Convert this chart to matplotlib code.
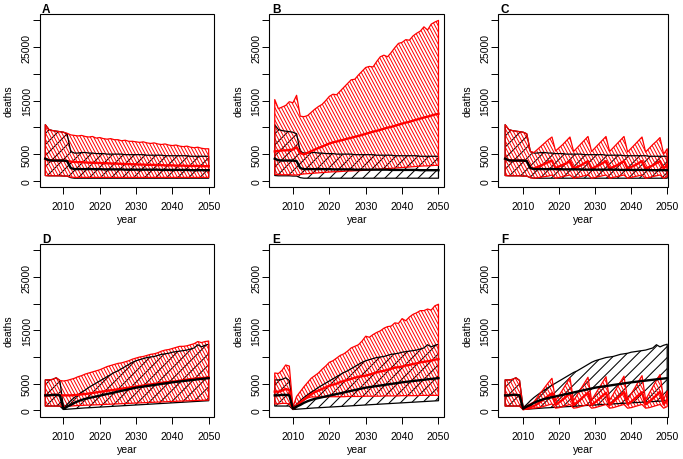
import numpy as np
import matplotlib
matplotlib.use("Agg")
import matplotlib.pyplot as plt
from matplotlib.collections import LineCollection
from matplotlib.patches import Rectangle

plt.rcParams['font.family'] = ['Liberation Sans', 'DejaVu Sans']

years = list(range(2005, 2051))

# ---- baseline (black) bands, top row A-C ----
blkT_hi = [10500, 9600, 9400, 9300, 9200, 9100, 8800, 5500, 5200, 5200,
           5300, 5300, 5200, 5200, 5100, 5100, 5100, 5000, 5000, 5000,
           5000, 5000, 4900, 4900, 4900, 4900, 4900, 4900, 4800, 4800,
           4800, 4800, 4800, 4700, 4700, 4700, 4700, 4700, 4700, 4700,
           4600, 4600, 4600, 4600, 4600, 4600]
blkT_mid = [4150, 3850, 3800, 3800, 3800, 3800, 3700, 2400, 2200, 2200,
            2200, 2200, 2200, 2200, 2200, 2200, 2150, 2150, 2150, 2150,
            2150, 2150, 2100, 2100, 2100, 2100, 2100, 2100, 2100, 2100,
            2100, 2100, 2050, 2050, 2050, 2050, 2050, 2050, 2050, 2050,
            2000, 2000, 2000, 2000, 2000, 2000]
blkT_lo = [1000, 950, 950, 950, 950, 900, 900, 600, 500, 500,
           500, 500, 500, 500, 500, 500, 500, 500, 500, 500,
           500, 500, 500, 500, 500, 500, 500, 500, 500, 500,
           500, 500, 500, 500, 500, 500, 500, 500, 500, 500,
           500, 500, 500, 500, 500, 500]

# ---- baseline (black) bands, bottom row D-F ----
blkB_hi = [5700, 5700, 5800, 6100, 5600, 500, 1100, 1800, 2400, 2900,
           3400, 3800, 4300, 4700, 5100, 5500, 5900, 6300, 6700, 7100,
           7400, 7800, 8200, 8600, 9000, 9300, 9500, 9700, 9900, 10000,
           10100, 10300, 10500, 10600, 10700, 10900, 11000, 11100, 11200, 11300,
           11500, 11700, 12300, 11900, 12200, 12400]
blkB_mid = [2800, 2800, 2900, 2900, 2800, 300, 700, 1000, 1400, 1700,
            1950, 2150, 2300, 2450, 2600, 2750, 2900, 3050, 3200, 3350,
            3500, 3650, 3800, 3950, 4100, 4250, 4350, 4450, 4550, 4650,
            4750, 4850, 4950, 5050, 5150, 5250, 5330, 5410, 5490, 5570,
            5650, 5730, 5810, 5890, 5960, 6030]
blkB_lo = [800, 800, 800, 800, 800, 150, 200, 250, 300, 350,
           400, 450, 480, 520, 560, 600, 640, 680, 720, 760,
           800, 840, 880, 920, 960, 1000, 1040, 1080, 1120, 1160,
           1200, 1240, 1280, 1320, 1360, 1400, 1440, 1480, 1520, 1560,
           1600, 1640, 1680, 1720, 1760, 1800]

# ---- scenario (red) bands ----
redA_hi = [10500, 9600, 9400, 9300, 9200, 9100, 8900, 8600, 8500, 8400,
           8500, 8300, 8200, 8300, 8000, 8100, 7900, 7800, 7900, 7700,
           7700, 7500, 7600, 7400, 7400, 7300, 7200, 7300, 7100, 7000,
           7100, 6900, 6800, 6900, 6700, 6600, 6700, 6500, 6400, 6500,
           6300, 6200, 6300, 6100, 6000, 6000]
redA_mid = [4150, 3850, 3800, 3800, 3800, 3800, 3700, 3600, 3550, 3500,
            3500, 3450, 3400, 3400, 3350, 3350, 3300, 3300, 3250, 3250,
            3200, 3200, 3150, 3150, 3100, 3100, 3050, 3050, 3000, 3000,
            3000, 2950, 2950, 2900, 2900, 2900, 2850, 2850, 2850, 2800,
            2800, 2800, 2800, 2750, 2750, 2750]
redA_lo = [1000, 950, 950, 950, 950, 900, 900, 700, 650, 650,
           650, 650, 650, 650, 650, 650, 650, 650, 650, 650,
           650, 650, 650, 650, 650, 650, 650, 650, 650, 650,
           650, 650, 650, 650, 650, 650, 650, 650, 650, 650,
           650, 650, 650, 650, 650, 650]

redB_hi = [15200, 13500, 13800, 14100, 14800, 14600, 16000, 12100, 12000, 12200,
           12800, 13400, 13900, 14300, 15000, 15800, 16200, 16100, 16800, 17500,
           18200, 18900, 19000, 19800, 20500, 21200, 21400, 21300, 22300, 23200,
           23500, 23200, 24000, 24900, 25700, 25900, 26400, 26300, 27100, 27600,
           28000, 28800, 28200, 29300, 29700, 30000]
redB_mid = [5500, 5600, 5700, 5700, 5800, 5850, 6300, 5200, 4950, 5250,
            5550, 5850, 6150, 6400, 6700, 7000, 7200, 7350, 7550, 7700,
            7900, 8050, 8250, 8400, 8600, 8800, 9000, 9200, 9350, 9550,
            9750, 9950, 10100, 10300, 10500, 10700, 10900, 11050, 11250, 11450,
            11650, 11850, 12000, 12200, 12400, 12550]
redB_lo = [1200, 1150, 1150, 1150, 1150, 1100, 1100, 1200, 1300, 1350,
           1400, 1450, 1500, 1550, 1600, 1650, 1700, 1700, 1750, 1800,
           1850, 1850, 1900, 1900, 1950, 2000, 2050, 2100, 2150, 2200,
           2250, 2300, 2350, 2400, 2450, 2500, 2550, 2600, 2650, 2700,
           2750, 2800, 2800, 2850, 2900, 2900]

redC_hi = [10500, 9600, 9400, 9300, 9200, 9100, 8800, 5500, 5300, 5900,
           6500, 7100, 7700, 8200, 5600, 6200, 6800, 7500, 8200, 5500,
           6200, 6900, 7600, 8300, 5500, 6200, 6900, 7600, 8300, 5500,
           6200, 6900, 7600, 8300, 5400, 6100, 6800, 7500, 8200, 5400,
           6100, 6800, 7400, 8100, 5000, 6000]
redC_mid = [4150, 3850, 3800, 3800, 3800, 3800, 3700, 2400, 2300, 2600,
            2900, 3200, 3500, 3800, 2400, 2700, 3000, 3300, 3700, 2300,
            2600, 2900, 3300, 3700, 2300, 2600, 2900, 3300, 3700, 2300,
            2600, 2900, 3300, 3700, 2300, 2600, 2900, 3300, 3700, 2300,
            2600, 2900, 3300, 3700, 2300, 3000]
redC_lo = [1000, 950, 950, 950, 950, 900, 900, 600, 500, 600,
           700, 800, 900, 1100, 500, 650, 800, 950, 1100, 500,
           650, 800, 950, 1100, 500, 650, 800, 950, 1100, 500,
           650, 800, 950, 1100, 500, 650, 800, 950, 1100, 500,
           650, 800, 950, 1100, 500, 800]

redD_hi = [5700, 5700, 5800, 6100, 5600, 5500, 5600, 5800, 6000, 6300,
           6500, 6800, 7000, 7200, 7400, 7600, 7900, 8200, 8400, 8600,
           8800, 8900, 9100, 9300, 9600, 9800, 10000, 10100, 10300, 10500,
           10600, 10800, 11100, 11300, 11400, 11600, 11800, 12000, 12000, 12100,
           12300, 12500, 12900, 12700, 12900, 13000]
redD_mid = [2800, 2800, 2900, 2900, 2800, 2800, 2800, 2800, 2850, 2900,
            3000, 3050, 3150, 3250, 3350, 3450, 3550, 3650, 3750, 3850,
            3950, 4050, 4150, 4250, 4350, 4450, 4550, 4650, 4750, 4850,
            4950, 5050, 5150, 5250, 5300, 5350, 5450, 5550, 5650, 5750,
            5850, 5900, 6000, 6050, 6100, 6150]
redD_lo = [800, 800, 800, 800, 800, 700, 750, 800, 850, 900,
           920, 950, 980, 1000, 1030, 1060, 1090, 1120, 1150, 1180,
           1210, 1240, 1270, 1300, 1330, 1360, 1390, 1420, 1450, 1480,
           1510, 1540, 1570, 1600, 1630, 1660, 1690, 1720, 1750, 1780,
           1800, 1830, 1860, 1880, 1900, 1920]

redE_hi = [7000, 6900, 7500, 8500, 8300, 600, 2600, 3500, 4400, 5200,
           6000, 6500, 7000, 7700, 8300, 9000, 9300, 9800, 10300, 10600,
           11100, 11700, 12000, 12300, 13000, 13900, 13700, 14200, 14600, 14900,
           15400, 15700, 15800, 16400, 16300, 17200, 16800, 17500, 18000, 18300,
           18700, 18700, 19000, 18800, 19600, 19900]
redE_mid = [3500, 3500, 3700, 4000, 3800, 300, 900, 1500, 2000, 2500,
            3000, 3400, 3700, 4000, 4300, 4600, 4800, 5000, 5300, 5500,
            5700, 5900, 6100, 6300, 6400, 6500, 6700, 6900, 7100, 7300,
            7400, 7600, 7800, 8000, 8100, 8200, 8400, 8500, 8700, 8800,
            9000, 9100, 9200, 9300, 9500, 9600]
redE_lo = [1200, 1200, 1300, 1300, 1200, 150, 700, 1300, 1900, 2300,
           2500, 2500, 2500, 2500, 2500, 2550, 2550, 2550, 2550, 2550,
           2600, 2600, 2600, 2600, 2600, 2650, 2650, 2650, 2650, 2650,
           2700, 2700, 2700, 2700, 2700, 2750, 2750, 2750, 2750, 2750,
           2800, 2800, 2800, 2800, 2800, 2800]

redF_hi = [5700, 5700, 5800, 6100, 5600, 300, 800, 1200, 1600, 2500,
           3400, 4300, 5200, 6000, 1800, 2800, 3900, 5000, 6100, 1800,
           2900, 4000, 5100, 6200, 1900, 3000, 4100, 5200, 6300, 1900,
           3000, 4200, 5300, 6400, 2000, 3100, 4200, 5400, 6500, 2000,
           3200, 4400, 5600, 6700, 2000, 3600]
redF_mid = [2800, 2800, 2900, 2900, 2800, 200, 400, 600, 800, 1200,
            1700, 2200, 2700, 3200, 1000, 1500, 2000, 2600, 3200, 1000,
            1500, 2100, 2700, 3300, 1000, 1500, 2100, 2700, 3300, 1000,
            1600, 2200, 2800, 3400, 1100, 1600, 2200, 2800, 3400, 1100,
            1600, 2200, 2800, 3500, 1100, 2000]
redF_lo = [800, 800, 800, 800, 800, 150, 200, 300, 400, 500,
           600, 800, 1000, 1200, 400, 500, 700, 900, 1100, 400,
           500, 700, 900, 1100, 400, 500, 700, 900, 1100, 400,
           500, 700, 900, 1100, 400, 500, 700, 900, 1100, 400,
           500, 700, 900, 1100, 400, 700]

panel_labels = ['A', 'B', 'C', 'D', 'E', 'F']
yticks = [0, 5000, 10000, 15000, 20000, 25000, 30000]
ytick_labels = ['0', '5000', '', '15000', '', '25000', '']
xticks = [2010, 2020, 2030, 2040, 2050]

panels = [
    (blkT_lo, blkT_mid, blkT_hi, redA_lo, redA_mid, redA_hi),
    (blkT_lo, blkT_mid, blkT_hi, redB_lo, redB_mid, redB_hi),
    (blkT_lo, blkT_mid, blkT_hi, redC_lo, redC_mid, redC_hi),
    (blkB_lo, blkB_mid, blkB_hi, redD_lo, redD_mid, redD_hi),
    (blkB_lo, blkB_mid, blkB_hi, redE_lo, redE_mid, redE_hi),
    (blkB_lo, blkB_mid, blkB_hi, redF_lo, redF_mid, redF_hi),
]
for p in panels:
    for s in p:
        assert len(s) == len(years), len(s)

W, H = 683, 460
fig = plt.figure(figsize=(W / 100, H / 100), dpi=100)

col_lr = [(39.5, 214.5), (269.3, 444.3), (498.3, 668.3)]
row_tb = [(15.0, 188.3), (245.0, 417.7)]
col_xlim = [(2003.4, 2051.6), (2003.5, 2051.6), (2003.1, 2050.3)]


def clip_to_box(p, d, x0, y0, x1, y1):
    """Liang-Barsky: return segment of line p + s*d inside box, or None."""
    smin, smax = -1e9, 1e9
    for pi, di, lo, hi in ((p[0], d[0], x0, x1), (p[1], d[1], y0, y1)):
        if abs(di) < 1e-12:
            if pi < lo or pi > hi:
                return None
            continue
        s1, s2 = (lo - pi) / di, (hi - pi) / di
        if s1 > s2:
            s1, s2 = s2, s1
        smin, smax = max(smin, s1), min(smax, s2)
    if smin >= smax:
        return None
    return np.vstack([p + smin * d, p + smax * d])


def hatch(ax, x, lo, hi, color, angle, spacing, lw, edge_lw):
    poly = ax.fill_between(x, lo, hi, facecolor='none', edgecolor=color,
                           linewidth=edge_lw, zorder=2)
    path = poly.get_paths()[0]
    bb = ax.bbox
    c = np.array([(bb.x0 + bb.x1) / 2, (bb.y0 + bb.y1) / 2])
    R = np.hypot(bb.width, bb.height)
    t = np.deg2rad(angle)
    d = np.array([np.cos(t), np.sin(t)])
    n = np.array([-np.sin(t), np.cos(t)])
    inv = ax.transData.inverted()
    segs = []
    for o in np.arange(-R, R, spacing):
        seg = clip_to_box(c + n * o, d, bb.x0, bb.y0, bb.x1, bb.y1)
        if seg is not None:
            segs.append(inv.transform(seg))
    lc = LineCollection(segs, colors=color, linewidths=lw, transform=ax.transData,
                        zorder=1.5)
    ax.add_collection(lc, autolim=False)
    lc.set_clip_path(path, ax.transData)


for i, (blo, bmid, bhi, rlo, rmid, rhi) in enumerate(panels):
    r, c = divmod(i, 3)
    l, rr = col_lr[c]
    t, b = row_tb[r]
    ax = fig.add_axes([l / W, 1 - b / H, (rr - l) / W, (b - t) / H])
    ax.set_xlim(*col_xlim[c])
    ax.set_ylim(-1200, 31200)

    hatch(ax, years, blo, bhi, 'black', 45, 7.8, 0.75, 0.9)
    hatch(ax, years, rlo, rhi, '#ff0000', 118, 2.9, 0.7, 0.9)
    ax.plot(years, rmid, color='#ff0000', lw=1.7, zorder=3)
    ax.plot(years, bmid, color='black', lw=1.7, zorder=4)

    ax.set_yticks(yticks)
    ax.set_yticklabels(ytick_labels, rotation=90, va='center')
    ax.set_xticks(xticks)
    ax.tick_params(direction='out', length=5, width=0.7, labelsize=7.6,
                   top=False, right=False)
    ax.tick_params(axis='x', pad=5.2)
    ax.tick_params(axis='y', pad=0.6)
    for sp in ax.spines.values():
        sp.set_visible(False)
    ax.add_patch(Rectangle((0, 0), 1, 1, transform=ax.transAxes, fill=False,
                           edgecolor='black', linewidth=0.8, zorder=5,
                           clip_on=False, joinstyle='miter'))

    fig.text((l + 2.5) / W, 1 - (t - 1.7) / H, panel_labels[i], fontsize=8.5,
             fontweight='bold', va='baseline', ha='left')
    fig.text(((l + rr) / 2) / W, 1 - (b + 32) / H, 'year', fontsize=7.6,
             ha='center', va='center')
    fig.text((l - 31) / W, 1 - ((t + b) / 2) / H, 'deaths', fontsize=7.6,
             ha='center', va='center', rotation=90)

fig.savefig('out.png', dpi=100)
